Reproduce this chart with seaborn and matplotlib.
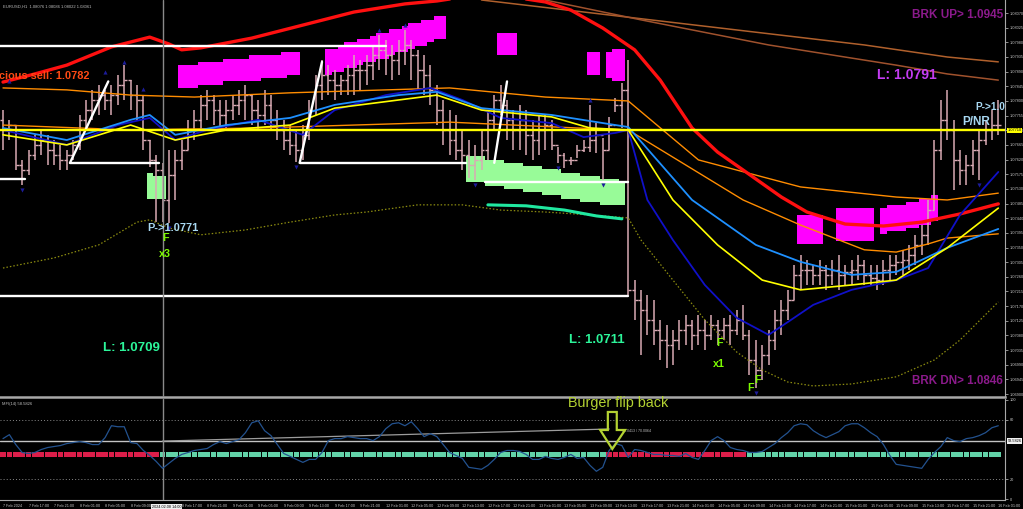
import matplotlib
matplotlib.use("Agg")
import matplotlib.pyplot as plt
import matplotlib.transforms as mtrans
from matplotlib.patches import Polygon
import seaborn as sns
import numpy as np
import pandas as pd
import logging

# ---------------- data (EURUSD H1, 7 Feb 13:00 -> 16 Feb 01:00, 2024) ----------------
bar_high = [1.07772,1.07742,1.07726,1.07619,1.07650,1.07696,1.07711,1.07696,1.07680,1.07665,
            1.07650,1.07680,1.07757,1.07803,1.07834,1.07849,1.07834,1.07849,1.07880,1.07910,
            1.07864,1.07849,1.07818,1.07680,1.07634,1.07610,1.07650,1.07650,1.07680,1.07742,
            1.07772,1.07818,1.07834,1.07818,1.07803,1.07803,1.07818,1.07834,1.07849,1.07818,
            1.07803,1.07834,1.07818,1.07772,1.07742,1.07726,1.07711,1.07726,1.07803,1.07880,
            1.07926,1.07910,1.07895,1.07880,1.07910,1.07941,1.07926,1.07941,1.07972,1.08003,
            1.07987,1.07972,1.07987,1.08018,1.07987,1.07957,1.07941,1.07910,1.07849,1.07803,
            1.07772,1.07757,1.07711,1.07680,1.07665,1.07711,1.07772,1.07818,1.07849,1.07803,
            1.07772,1.07788,1.07772,1.07742,1.07757,1.07757,1.07742,1.07659,1.07640,1.07628,
            1.07665,1.07680,1.07788,1.07732,1.07686,1.07751,1.07809,1.07855,1.07926,1.07250,
            1.07220,1.07204,1.07189,1.07128,1.07112,1.07097,1.07128,1.07143,1.07128,1.07143,
            1.07128,1.07143,1.07128,1.07134,1.07143,1.07158,1.07174,1.07097,1.07066,1.07051,
            1.07097,1.07158,1.07189,1.07220,1.07297,1.07327,1.07312,1.07297,1.07312,1.07297,
            1.07312,1.07327,1.07297,1.07312,1.07327,1.07312,1.07297,1.07297,1.07312,1.07327,
            1.07327,1.07343,1.07358,1.07389,1.07419,1.07496,1.07680,1.07803,1.07834,1.07742,
            1.07650,1.07634,1.07680,1.07711,1.07742,1.07772,1.07803]
bar_low = [1.07650,1.07680,1.07588,1.07542,1.07573,1.07619,1.07634,1.07604,1.07604,1.07588,
           1.07588,1.07619,1.07650,1.07711,1.07742,1.07757,1.07772,1.07757,1.07788,1.07803,
           1.07772,1.07742,1.07650,1.07597,1.07428,1.07428,1.07425,1.07496,1.07588,1.07650,
           1.07680,1.07711,1.07742,1.07726,1.07711,1.07711,1.07742,1.07757,1.07742,1.07726,
           1.07711,1.07726,1.07711,1.07680,1.07650,1.07634,1.07613,1.07619,1.07680,1.07757,
           1.07803,1.07818,1.07803,1.07818,1.07818,1.07818,1.07834,1.07849,1.07864,1.07895,
           1.07880,1.07864,1.07880,1.07910,1.07864,1.07834,1.07818,1.07788,1.07726,1.07665,
           1.07634,1.07619,1.07588,1.07564,1.07557,1.07588,1.07619,1.07711,1.07757,1.07680,
           1.07650,1.07650,1.07634,1.07619,1.07634,1.07650,1.07650,1.07610,1.07594,1.07604,
           1.07625,1.07643,1.07643,1.07640,1.07557,1.07650,1.07766,1.07717,1.07204,1.07128,
           1.07020,1.07082,1.07051,1.07005,1.06980,1.06990,1.07035,1.07051,1.07035,1.07051,
           1.07035,1.07066,1.07051,1.07066,1.07051,1.07082,1.07066,1.06959,1.06919,1.06944,
           1.06990,1.07035,1.07082,1.07128,1.07189,1.07220,1.07235,1.07235,1.07235,1.07220,
           1.07235,1.07220,1.07235,1.07235,1.07250,1.07235,1.07235,1.07220,1.07235,1.07250,
           1.07266,1.07266,1.07281,1.07297,1.07327,1.07358,1.07465,1.07619,1.07680,1.07527,
           1.07542,1.07542,1.07573,1.07557,1.07665,1.07680,1.07696]
bar_close = [1.07711,1.07726,1.07604,1.07588,1.07634,1.07665,1.07680,1.07650,1.07634,1.07619,
             1.07634,1.07665,1.07742,1.07772,1.07803,1.07818,1.07803,1.07818,1.07849,1.07864,
             1.07818,1.07803,1.07680,1.07619,1.07588,1.07496,1.07573,1.07619,1.07650,1.07711,
             1.07742,1.07788,1.07803,1.07772,1.07757,1.07772,1.07788,1.07803,1.07818,1.07772,
             1.07757,1.07788,1.07742,1.07711,1.07680,1.07665,1.07650,1.07696,1.07772,1.07849,
             1.07880,1.07864,1.07849,1.07864,1.07880,1.07895,1.07895,1.07910,1.07941,1.07957,
             1.07941,1.07926,1.07957,1.07972,1.07941,1.07895,1.07880,1.07834,1.07772,1.07711,
             1.07680,1.07650,1.07634,1.07604,1.07619,1.07650,1.07742,1.07803,1.07788,1.07742,
             1.07711,1.07742,1.07696,1.07680,1.07711,1.07726,1.07665,1.07634,1.07619,1.07619,
             1.07650,1.07659,1.07680,1.07696,1.07650,1.07726,1.07788,1.07834,1.07220,1.07189,
             1.07158,1.07128,1.07097,1.07066,1.07051,1.07066,1.07097,1.07112,1.07082,1.07097,
             1.07082,1.07112,1.07097,1.07112,1.07097,1.07128,1.07082,1.07005,1.06974,1.07020,
             1.07066,1.07128,1.07158,1.07189,1.07266,1.07281,1.07281,1.07266,1.07281,1.07266,
             1.07281,1.07266,1.07275,1.07281,1.07297,1.07266,1.07257,1.07250,1.07281,1.07297,
             1.07306,1.07312,1.07327,1.07358,1.07389,1.07465,1.07650,1.07742,1.07711,1.07619,
             1.07588,1.07604,1.07650,1.07680,1.07711,1.07726,1.07726]
first_open = 1.07742

# moving averages / bands (bar index knots, price)
red_i = [0,5,10,17,23,26,28,31,39,47,55,63,68,73,80,85,89,94,99,103,108,112,116,122,126,132,138,144,150,156]
red_p = [1.07858,1.07883,1.07910,1.07966,1.07996,1.07975,1.07957,1.07963,1.07993,1.08033,1.08073,1.08098,
         1.08107,1.08122,1.08119,1.08104,1.08079,1.08024,1.07957,1.07864,1.07717,1.07643,1.07588,1.07505,
         1.07459,1.07422,1.07416,1.07428,1.07453,1.07484]
brown1_i = [75,95,115,135,148,156]
brown1_p = [1.08110,1.08064,1.08018,1.07972,1.07935,1.07920]
brown2_i = [85,100,120,140,148,156]
brown2_p = [1.08110,1.08049,1.07972,1.07910,1.07883,1.07864]
orange1_i = [0,10,20,30,45,60,70,85,98,109,125,140,148,156]
orange1_p = [1.07840,1.07834,1.07818,1.07812,1.07825,1.07834,1.07840,1.07812,1.07800,1.07619,1.07536,
             1.07505,1.07496,1.07517]
orange2_i = [0,20,40,70,90,98,116,125,135,140,145,148,156]
orange2_p = [1.07726,1.07711,1.07717,1.07735,1.07717,1.07711,1.07496,1.07419,1.07343,1.07336,1.07361,
             1.07379,1.07392]
navy_i = [0,10,18,23,27,32,40,47,52,60,67,72,78,86,91,96,98,101,105,110,115,120,123,127,133,140,145,150,156]
navy_p = [1.07711,1.07665,1.07726,1.07748,1.07680,1.07711,1.07742,1.07696,1.07772,1.07818,1.07840,1.07803,
          1.07748,1.07732,1.07689,1.07702,1.07711,1.07496,1.07373,1.07235,1.07134,1.07082,1.07121,1.07174,
          1.07220,1.07250,1.07287,1.07450,1.07582]
dodger_i = [0,10,20,23,27,35,45,52,62,68,75,86,96,98,108,118,125,133,140,148,156]
dodger_p = [1.07717,1.07680,1.07742,1.07757,1.07696,1.07726,1.07748,1.07788,1.07818,1.07828,1.07778,
            1.07757,1.07726,1.07720,1.07496,1.07358,1.07306,1.07266,1.07275,1.07349,1.07407]
yellow_i = [0,10,20,27,35,45,52,62,68,75,86,92,98,105,112,119,125,133,140,148,156]
yellow_p = [1.07696,1.07665,1.07726,1.07680,1.07711,1.07726,1.07778,1.07803,1.07818,1.07772,1.07751,
            1.07717,1.07711,1.07496,1.07358,1.07250,1.07220,1.07235,1.07250,1.07349,1.07471]
lowband_i = [0,8,15,21,23,26,31,38,45,52,57,65,72,78,85,92,98,100,105,110,115,119,123,127,133,140,146,150,156]
lowband_p = [1.07287,1.07318,1.07358,1.07428,1.07435,1.07410,1.07389,1.07404,1.07428,1.07450,1.07459,
             1.07481,1.07481,1.07465,1.07459,1.07450,1.07441,1.07373,1.07250,1.07128,1.07029,1.06974,
             1.06937,1.06925,1.06931,1.06953,1.07005,1.07066,1.07183]
teal_i = [76,82,88,93,97]
teal_p = [1.07481,1.07478,1.07465,1.07447,1.07438]

# fractal arrows (bar index, price)
frac_up_i = [1, 16, 19, 22, 59, 63, 92]
frac_up_p = [1.07862, 1.07890, 1.07920, 1.07836, 1.08018, 1.08033, 1.07804]
frac_dn_i = [3, 26, 46, 74, 87, 94, 118, 153]
frac_dn_p = [1.07527, 1.07410, 1.07598, 1.07542, 1.07595, 1.07542, 1.06904, 1.07542]

# magenta / light-green histogram blocks (bar index, top, bottom)
mag_i = list(range(28, 47)) + list(range(51, 70)) + [78, 79, 80] + [92, 93, 95, 96, 97] \
        + [125, 126, 127, 128] + list(range(131, 137)) + list(range(138, 147))
mag_top = [1.0791,1.0791,1.0791,1.0792,1.0792,1.0792,1.0792,1.0793,1.0793,1.0793,1.0793,1.0794,1.0794,
           1.0794,1.0794,1.0794,1.0795,1.0795,1.0795,
           1.0796,1.0796,1.0797,1.0798,1.0798,1.0799,1.0799,1.0800,1.0801,1.0801,1.0802,1.0802,1.0803,
           1.0804,1.0804,1.0805,1.0805,1.0806,1.0806,
           1.0801,1.0801,1.0801,
           1.0795,1.0795,1.0795,1.0796,1.0796,
           1.0745,1.0745,1.0745,1.0745,
           1.0747,1.0747,1.0747,1.0747,1.0747,1.0747,
           1.0747,1.0748,1.0748,1.0748,1.0749,1.0749,1.0750,1.0750,1.0751]
mag_bot = [1.0784,1.0784,1.0784,1.0785,1.0785,1.0785,1.0785,1.0786,1.0786,1.0786,1.0786,1.0786,1.0786,
           1.0787,1.0787,1.0787,1.0787,1.0788,1.0788,
           1.0788,1.0789,1.0789,1.0790,1.0790,1.0791,1.0792,1.0792,1.0793,1.0793,1.0794,1.0795,1.0795,
           1.0796,1.0797,1.0797,1.0798,1.0799,1.0799,
           1.0794,1.0794,1.0794,
           1.0788,1.0788,1.0787,1.0786,1.0786,
           1.0736,1.0736,1.0736,1.0736,
           1.0737,1.0737,1.0737,1.0737,1.0737,1.0737,
           1.0739,1.0740,1.0740,1.0740,1.0741,1.0741,1.0742,1.0742,1.0743]
grn_i = [23, 24, 25] + list(range(73, 98))
grn_top = [1.0758,1.0757,1.0757,
           1.0763,1.0763,1.0763,
           1.0762,1.0762,1.0762,1.0761,1.0761,1.0761,1.0760,1.0760,1.0760,1.0759,1.0759,1.0759,
           1.0758,1.0758,1.0758,1.0757,1.0757,1.0757,1.0756,1.0756,1.0756,1.0755]
grn_bot = [1.0750,1.0750,1.0750,
           1.0755,1.0755,1.0755,
           1.0754,1.0754,1.0754,1.0753,1.0753,1.0753,1.0752,1.0752,1.0752,1.0751,1.0751,1.0751,
           1.0750,1.0750,1.0750,1.0749,1.0749,1.0749,1.0748,1.0748,1.0748,1.0748]

# white support / resistance segments: (start bar, end bar, start price, end price)
seg_x0 = [-1, -1, 10.5, 46.5, 75.5, -1, 10.5, 46.5, 77.0]
seg_x1 = [60, 3.5, 24.5, 72.5, 98.0, 98.0, 16.5, 50.0, 79.0]
seg_p0 = [1.0797, 1.0756, 1.0761, 1.0761, 1.0755, 1.0720, 1.0761, 1.0761, 1.0761]
seg_p1 = [1.0797, 1.0756, 1.0761, 1.0761, 1.0755, 1.0720, 1.0786, 1.0792, 1.0786]
pivot_level = 1.0771

# MFI(14) sub-window
mfi = [61,65,55,47,46,47,50,52,53,54,
       56,57,58,57,55,55,62,74,73,73,
       57,56,49,44,38,31,36,41,45,47,
       49,50,51,55,58,56,58,60,67,77,
       79,69,64,55,46,43,40,37,40,40,
       47,59,61,61,63,62,61,61,59,63,
       71,76,77,74,78,71,63,66,63,55,
       47,44,41,32,31,30,34,40,47,49,
       49,48,45,40,40,43,41,40,42,45,
       41,42,34,28,32,49,56,54,42,50,
       49,47,45,45,44,44,43,46,42,40,
       49,59,63,59,52,50,49,47,47,48,
       52,56,62,67,74,76,75,69,65,62,
       65,68,74,76,76,72,67,63,55,44,
       35,34,33,32,31,40,47,53,62,59,
       58,61,62,64,67,72,74]
signal_runs = [("sell", 25), ("buy", 70), ("sell", 22), ("buy", 40)]
mfi_level = 58.5
trend_i = [25, 95]
trend_v = [58.5, 70.7]

# time axis labels every 4 bars (the 8 Feb 13:00 one is hidden under the crosshair box)
x_tick_labels = ["7 Feb 2024", "7 Feb 17:00", "7 Feb 21:00",
                 "8 Feb 01:00", "8 Feb 05:00", "8 Feb 09:00", "", "8 Feb 17:00", "8 Feb 21:00",
                 "9 Feb 01:00", "9 Feb 05:00", "9 Feb 09:00", "9 Feb 13:00", "9 Feb 17:00", "9 Feb 21:00",
                 "12 Feb 01:00", "12 Feb 05:00", "12 Feb 09:00", "12 Feb 13:00", "12 Feb 17:00", "12 Feb 21:00",
                 "13 Feb 01:00", "13 Feb 05:00", "13 Feb 09:00", "13 Feb 13:00", "13 Feb 17:00", "13 Feb 21:00",
                 "14 Feb 01:00", "14 Feb 05:00", "14 Feb 09:00", "14 Feb 13:00", "14 Feb 17:00", "14 Feb 21:00",
                 "15 Feb 01:00", "15 Feb 05:00", "15 Feb 09:00", "15 Feb 13:00", "15 Feb 17:00", "15 Feb 21:00",
                 "16 Feb 01:00"]
price_ticks = [1.08070 - 0.00045 * k for k in range(27)]

# ---------------- styling ----------------
sns.set_theme(style="dark", rc={
    "axes.facecolor": "black", "figure.facecolor": "black",
    "axes.edgecolor": "#a0a0a0", "text.color": "#d0d0d0",
    "xtick.color": "#c8c8c8", "ytick.color": "#c8c8c8", "axes.grid": False})
plt.rcParams['font.family'] = ['DejaVu Sans']
logging.getLogger("matplotlib.font_manager").setLevel(logging.ERROR)
NARROW = ["Liberation Sans Narrow", "Liberation Sans", "DejaVu Sans"]
SANS = ["Liberation Sans", "DejaVu Sans"]

W, H = 1023, 509
fig = plt.figure(figsize=(W / 100, H / 100), dpi=100)
ax = fig.add_axes([0, 1 - 397 / H, 1005 / W, 397 / H])
axm = fig.add_axes([0, 1 - 500 / H, 1005 / W, 101 / H])
for a in (ax, axm):
    a.set_facecolor("black")
    a.spines["left"].set_visible(False)
    a.spines["top"].set_visible(False)
    a.spines["right"].set_color("#a8a8a8")
    a.spines["right"].set_linewidth(0.8)
    a.spines["bottom"].set_color("#a8a8a8")
    a.set_xlim(-0.47, 157.05)
ax.spines["bottom"].set_linewidth(1.8)
axm.spines["bottom"].set_linewidth(0.8)
ax.set_ylim(1.06891, 1.0811)
axm.set_ylim(-1, 101)
renderer = fig.canvas.get_renderer()

def fit(t, target_px):
    """scale a text's font size so its rendered width matches the reference width"""
    w = t.get_window_extent(renderer).width
    if w > 0:
        t.set_fontsize(t.get_fontsize() * target_px / w)
    return t

xb = np.arange(len(bar_close))
CANDLE = "#d9aab4"

# blocks
ax.bar(mag_i, np.array(mag_top) - np.array(mag_bot), bottom=mag_bot, width=1.0,
       color="#ff00ff", linewidth=0, zorder=1)
ax.bar(grn_i, np.array(grn_top) - np.array(grn_bot), bottom=grn_bot, width=1.0,
       color="#98fb98", linewidth=0, zorder=1)

# candles (OHLC bars)
bar_open = [first_open] + bar_close[:-1]
ax.vlines(xb, bar_low, bar_high, color=CANDLE, lw=1.1, zorder=2)
ax.hlines(bar_open, xb - 0.45, xb, color=CANDLE, lw=1.0, zorder=2)
ax.hlines(bar_close, xb, xb + 0.45, color=CANDLE, lw=1.0, zorder=2)

# lines
def line(a, xi, yp, color, lw, **kw):
    sns.lineplot(x=xi, y=yp, ax=a, color=color, linewidth=lw, sort=False, estimator=None, **kw)

line(ax, brown1_i, brown1_p, "#b0602c", 1.1)
line(ax, brown2_i, brown2_p, "#a0522d", 1.1)
line(ax, lowband_i, lowband_p, "#8c8c10", 0.9, linestyle=(0, (1.2, 1.6)))
line(ax, orange1_i, orange1_p, "#ff8c00", 1.0)
line(ax, orange2_i, orange2_p, "#ff8c00", 1.0)
line(ax, red_i, red_p, "#ff1010", 2.4)
line(ax, navy_i, navy_p, "#1010c8", 1.3)
line(ax, dodger_i, dodger_p, "#1e90ff", 1.3)
line(ax, yellow_i, yellow_p, "#ffff00", 1.2)
line(ax, teal_i, teal_p, "#20e8a0", 2.2)
ax.axhline(pivot_level, color="#ffff00", lw=1.7, zorder=3)
for a0, a1, p0, p1 in zip(seg_x0, seg_x1, seg_p0, seg_p1):
    line(ax, [a0, a1], [p0, p1], "white", 1.7)
sns.scatterplot(x=frac_up_i, y=frac_up_p, ax=ax, marker="^", s=9, color="#1c1c9a", linewidth=0, zorder=5)
sns.scatterplot(x=frac_dn_i, y=frac_dn_p, ax=ax, marker="v", s=9, color="#1c1c9a", linewidth=0, zorder=5)

ax.axvline(25, color="#8a8a8a", lw=1.0, zorder=4)
axm.axvline(25, color="#8a8a8a", lw=1.0, zorder=4)

# texts in main window (width fitted to the reference, in pixels)
def txt(x, y, s, color, width_px=None, size=10, fam=NARROW, ha="left", **kw):
    t = ax.text(x, y, s, color=color, fontsize=size, family=fam, weight="bold", ha=ha,
                va="center", zorder=6, **kw)
    if width_px:
        fit(t, width_px)
    return t

t_x3 = txt(24.4, 1.07330, "x3", "#7cfc00", 12)
FS = t_x3.get_fontsize()
txt(-0.6, 1.07877, "cious sell: 1.0782", "#ff4a14", 91)
txt(22.6, 1.07410, "P->1.0771", "#a8d8f2", 51)
txt(25.0, 1.07379, "F", "#7cfc00", size=FS)
txt(15.7, 1.07042, "L: 1.0709", "#2cf59a", 57)
txt(88.7, 1.07066, "L: 1.0711", "#2cf59a", 56)
txt(111.8, 1.07057, "F", "#7cfc00", size=FS)
txt(111.2, 1.06993, "x1", "#7cfc00", 12)
txt(116.6, 1.06919, "F", "#7cfc00", size=FS)
txt(117.8, 1.06943, "F", "#7cfc00", size=FS)
txt(137.0, 1.07880, "L: 1.0791", "#c43cf2", 60)
txt(142.5, 1.08064, "BRK UP> 1.0945", "#8b1a8b", 91, fam=SANS)
txt(142.5, 1.06940, "BRK DN> 1.0846", "#8b1a8b", 91, fam=SANS)
txt(152.4, 1.07782, "P->1.0", "#a8d8f2", 30)
txt(150.3, 1.07735, "P/NR", "#a8d8f2", 28)
ax.text(0.003, 0.988, "EURUSD,H1  1.08076 1.08086 1.08022 1.08061", transform=ax.transAxes,
        fontsize=3.0, family=SANS, color="#c0c0c0", ha="left", va="top")

# tick font sizes fitted to reference widths
_probe = fig.text(0, 0, "1.08070", fontsize=4, family=NARROW)
TICK_Y = 4 * 14.0 / _probe.get_window_extent(renderer).width
_probe.set_text("7 Feb 17:00")
TICK_X = 4 * 20.0 / _probe.get_window_extent(renderer).width
_probe.remove()

# price axis on the right
ax.set_xticks([])
ax.yaxis.tick_right()
ax.set_yticks(price_ticks)
ax.set_yticklabels([f"{v:.5f}" for v in price_ticks], family=NARROW, fontsize=TICK_Y)
ax.tick_params(axis="y", length=2, width=0.5, pad=1.2, colors="#c8c8c8")
ax.set_ylabel("")
bt = mtrans.blended_transform_factory(ax.transAxes, ax.transData)
ax.text(1.0025, pivot_level, "1.07710", transform=bt, family=NARROW, fontsize=TICK_Y, color="black",
        ha="left", va="center", zorder=7,
        bbox=dict(boxstyle="square,pad=0.2", fc="#ffff00", ec="none"), clip_on=False)

# ---------------- MFI window ----------------
sig = [s for s, n in signal_runs for _ in range(n)]
df = pd.DataFrame({"bar": xb, "mfi": mfi, "signal": sig, "row": 45})
axm.axhline(80, color="#8a8a8a", lw=0.7, ls=(0, (1, 2.2)))
axm.axhline(20, color="#8a8a8a", lw=0.7, ls=(0, (1, 2.2)))
axm.axhline(mfi_level, color="#c4c4c4", lw=1.0)
line(axm, trend_i, trend_v, "#9c9c9c", 0.9)
sns.scatterplot(data=df, x="bar", y="row", hue="signal",
                palette={"sell": "#dc1e4a", "buy": "#62d2a8"}, marker="s", s=17,
                linewidth=0, legend=False, ax=axm, zorder=3)
sns.lineplot(data=df, x="bar", y="mfi", ax=axm, color="#23528f", linewidth=0.9,
             estimator=None, sort=False, zorder=4)
axm.set_xlabel("")
axm.set_ylabel("")
axm.yaxis.tick_right()
axm.set_yticks([0, 20, 80, 100])
axm.set_yticklabels(["0", "20", "80", "100"], family=NARROW, fontsize=TICK_Y)
axm.tick_params(axis="y", length=2, width=0.5, pad=1.2, colors="#c8c8c8")
axm.set_xticks(range(0, 157, 4))
axm.set_xticklabels(x_tick_labels, family=NARROW, fontsize=TICK_X)
for lab in axm.get_xticklabels():
    lab.set_horizontalalignment("left")
axm.tick_params(axis="x", length=2, width=0.5, pad=1.0, colors="#c8c8c8")
btm = mtrans.blended_transform_factory(axm.transAxes, axm.transData)
axm.text(1.0025, mfi_level, "58.5826", transform=btm, family=NARROW, fontsize=TICK_Y, color="black",
         ha="left", va="center", zorder=7,
         bbox=dict(boxstyle="square,pad=0.2", fc="#f0f0f0", ec="none"), clip_on=False)
bx = mtrans.blended_transform_factory(axm.transData, axm.transAxes)
axm.text(25.6, -0.045, "2024.02.08 14:00", transform=bx, family=NARROW, fontsize=TICK_X, color="black",
         ha="center", va="top", zorder=7,
         bbox=dict(boxstyle="square,pad=0.12", fc="#f0f0f0", ec="none"), clip_on=False)
axm.text(0.002, 0.97, "MFI(14) 58.5826", transform=axm.transAxes, fontsize=3.0, family=SANS,
         color="#c0c0c0", ha="left", va="top")
axm.text(97.0, 68.7, "70.0413 / 70.0064", fontsize=2.6, family=SANS, color="#c0c0c0",
         ha="left", va="center")

# annotation: "Burger flip back" with hollow arrow
tb = axm.text(88.6, 97, "Burger flip back", fontsize=10.4, family=SANS, color="#b4d232",
              ha="left", va="center", zorder=8, clip_on=False)
fit(tb, 100)
arrow = Polygon([[94.8, 87.9], [96.2, 87.9], [96.2, 69.7], [97.5, 69.7], [95.5, 50.5],
                 [93.6, 69.7], [94.8, 69.7]], closed=True, fill=False, ec="#b4d232", lw=1.6,
                zorder=8)
axm.add_patch(arrow)

fig.savefig("out.png", dpi=100, facecolor="black")
